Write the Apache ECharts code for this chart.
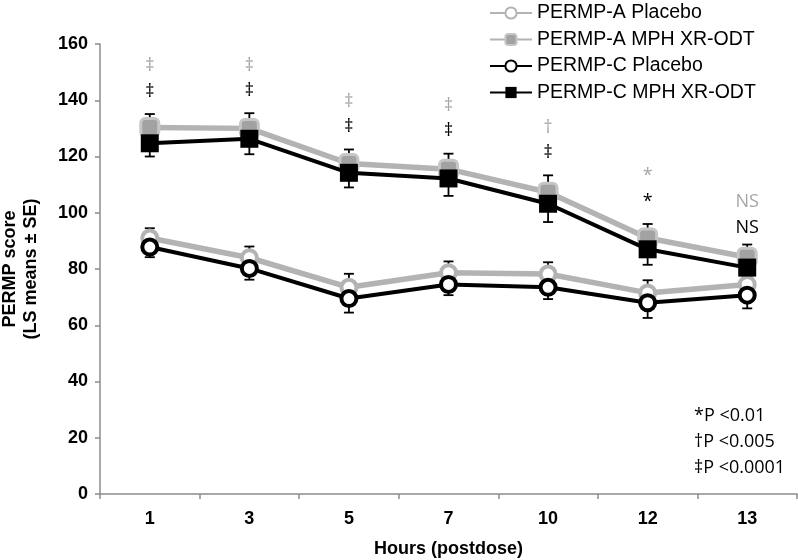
<!DOCTYPE html>
<html>
<head>
<meta charset="utf-8">
<script src="https://cdn.jsdelivr.net/npm/echarts@6/dist/echarts.min.js"></script>
<style>html,body{margin:0;padding:0;background:#fff}#c{width:798px;height:560px}</style>
</head>
<body>
<div id="c"></div>
<script>
// ---- data ----
var hours = ['1', '3', '5', '7', '10', '12', '13'];
var aPlacebo   = [91.0, 84.0, 73.5, 78.7, 78.2, 71.5, 74.5];
var aPlaceboSE = [3.5, 4.0, 4.8, 4.0, 4.2, 4.5, 3.5];
var aMph       = [130.3, 130.0, 117.5, 115.5, 107.3, 91.0, 84.2];
var aMphSE     = [4.8, 5.4, 5.0, 5.5, 6.0, 5.0, 4.5];
var cPlacebo   = [87.8, 80.2, 69.5, 74.5, 73.5, 68.0, 70.7];
var cPlaceboSE = [3.6, 4.0, 5.0, 3.8, 4.2, 5.4, 4.7];
var cMph       = [124.7, 126.3, 114.2, 112.2, 103.2, 87.0, 80.5];
var cMphSE     = [4.7, 5.5, 5.2, 6.2, 6.5, 5.5, 3.0];
var sigA = ['‡', '‡', '‡', '‡', '†', '*', 'NS'];
var sigC = ['‡', '‡', '‡', '‡', '‡', '*', 'NS'];
var seriesNames = ['PERMP-A Placebo', 'PERMP-A MPH XR-ODT', 'PERMP-C Placebo', 'PERMP-C MPH XR-ODT'];
var yTicks = {min: 0, max: 160, interval: 20};
var footnote = ['*P <0.01', '†P <0.005', '‡P <0.0001'];

// ---- build ----
var GREY = '#b3b3b3';
var means = [aPlacebo, aMph, cPlacebo, cMph];
var ses = [aPlaceboSE, aMphSE, cPlaceboSE, cMphSE];
var errData = [];
means.forEach(function (m, s) {
  m.forEach(function (v, i) { errData.push([i, v - ses[s][i], v + ses[s][i]]); });
});
var sigData = [];
aMph.forEach(function (v, i) {
  var top = v + aMphSE[i];
  var adj = sigA[i].length > 1 ? -2 : 0;
  sigData.push([i, top + 17 + adj, 0, i]);
  sigData.push([i, top + 8 + adj, 1, i]);
});

var chart = echarts.init(document.getElementById('c'), null, {renderer: 'canvas'});
var axisFont = {fontFamily: 'Liberation Sans, Arial, sans-serif', fontWeight: 'bold', fontSize: 18, color: '#000'};

chart.setOption({
  animation: false,
  grid: {left: 100, right: 1, top: 44, bottom: 66, containLabel: false, outerBoundsMode: 'none'},
  legend: {
    orient: 'vertical', left: 484, top: -2, itemWidth: 42, itemHeight: 14, itemGap: 6.5,
    textStyle: {fontFamily: 'Liberation Sans, Arial, sans-serif', fontSize: 19.5, color: '#000'},
    data: seriesNames, selectedMode: false
  },
  xAxis: {
    type: 'category', data: hours, boundaryGap: true,
    name: 'Hours (postdose)', nameLocation: 'middle', nameGap: 46,
    nameTextStyle: axisFont,
    axisLine: {lineStyle: {color: '#8c8c8c', width: 1.5}},
    axisTick: {show: true, alignWithLabel: false, length: 5, lineStyle: {color: '#8c8c8c', width: 1.5}},
    axisLabel: Object.assign({margin: 16}, axisFont),
    splitLine: {show: false}
  },
  yAxis: {
    type: 'value', min: yTicks.min, max: yTicks.max, interval: yTicks.interval,
    name: 'PERMP score\n(LS means ± SE)', nameLocation: 'middle', nameGap: 58,
    nameTextStyle: Object.assign({lineHeight: 21}, axisFont),
    axisLine: {show: true, lineStyle: {color: '#8c8c8c', width: 1.5}},
    axisTick: {show: true, length: 5, lineStyle: {color: '#8c8c8c', width: 1.5}},
    axisLabel: Object.assign({margin: 12}, axisFont),
    splitLine: {show: false}
  },
  graphic: [{
    type: 'text', left: 694, top: 403,
    style: {text: footnote.join('\n'), font: '18px "Open Sans", sans-serif', lineHeight: 26, fill: '#000'}
  }],
  series: [
    {
      type: 'custom', name: 'err', z: 1, silent: true,
      data: errData,
      renderItem: function (params, api) {
        var x = api.value(0), lo = api.coord([x, api.value(1)]), hi = api.coord([x, api.value(2)]);
        var w = 5;
        return {type: 'group', children: [
          {type: 'line', shape: {x1: lo[0], y1: lo[1], x2: hi[0], y2: hi[1]}, style: {stroke: '#000', lineWidth: 1.8}},
          {type: 'line', shape: {x1: lo[0] - w, y1: lo[1], x2: lo[0] + w, y2: lo[1]}, style: {stroke: '#000', lineWidth: 1.8}},
          {type: 'line', shape: {x1: hi[0] - w, y1: hi[1], x2: hi[0] + w, y2: hi[1]}, style: {stroke: '#000', lineWidth: 1.8}}
        ]};
      }
    },
    {
      name: seriesNames[0], type: 'line', z: 2, data: aPlacebo,
      symbol: 'circle', symbolSize: 15,
      lineStyle: {color: GREY, width: 5.5},
      itemStyle: {color: '#fff', borderColor: GREY, borderWidth: 4},
      emphasis: {disabled: true}
    },
    {
      name: seriesNames[1], type: 'line', z: 3, data: aMph,
      symbol: 'roundRect', symbolSize: 18,
      lineStyle: {color: GREY, width: 5.5},
      itemStyle: {color: '#a2a2a2', borderColor: '#c6c6c6', borderWidth: 3},
      emphasis: {disabled: true}
    },
    {
      name: seriesNames[2], type: 'line', z: 4, data: cPlacebo,
      symbol: 'circle', symbolSize: 15,
      lineStyle: {color: '#000', width: 4},
      itemStyle: {color: '#fff', borderColor: '#000', borderWidth: 4},
      emphasis: {disabled: true}
    },
    {
      name: seriesNames[3], type: 'line', z: 5, data: cMph,
      symbol: 'rect', symbolSize: 18,
      lineStyle: {color: '#000', width: 4},
      itemStyle: {color: '#000'},
      emphasis: {disabled: true}
    },
    {
      type: 'custom', name: 'sig', z: 6, silent: true,
      data: sigData,
      renderItem: function (params, api) {
        var p = api.coord([api.value(0), api.value(1)]);
        var which = api.value(2), i = api.value(3);
        var txt = which === 0 ? sigA[i] : sigC[i];
        return {type: 'text', x: p[0], y: p[1], style: {
          text: txt, align: 'center', verticalAlign: 'middle',
          font: '18px "Open Sans", sans-serif', fill: which === 0 ? '#a6a6a6' : '#000'
        }};
      }
    }
  ]
});
</script>
</body>
</html>
